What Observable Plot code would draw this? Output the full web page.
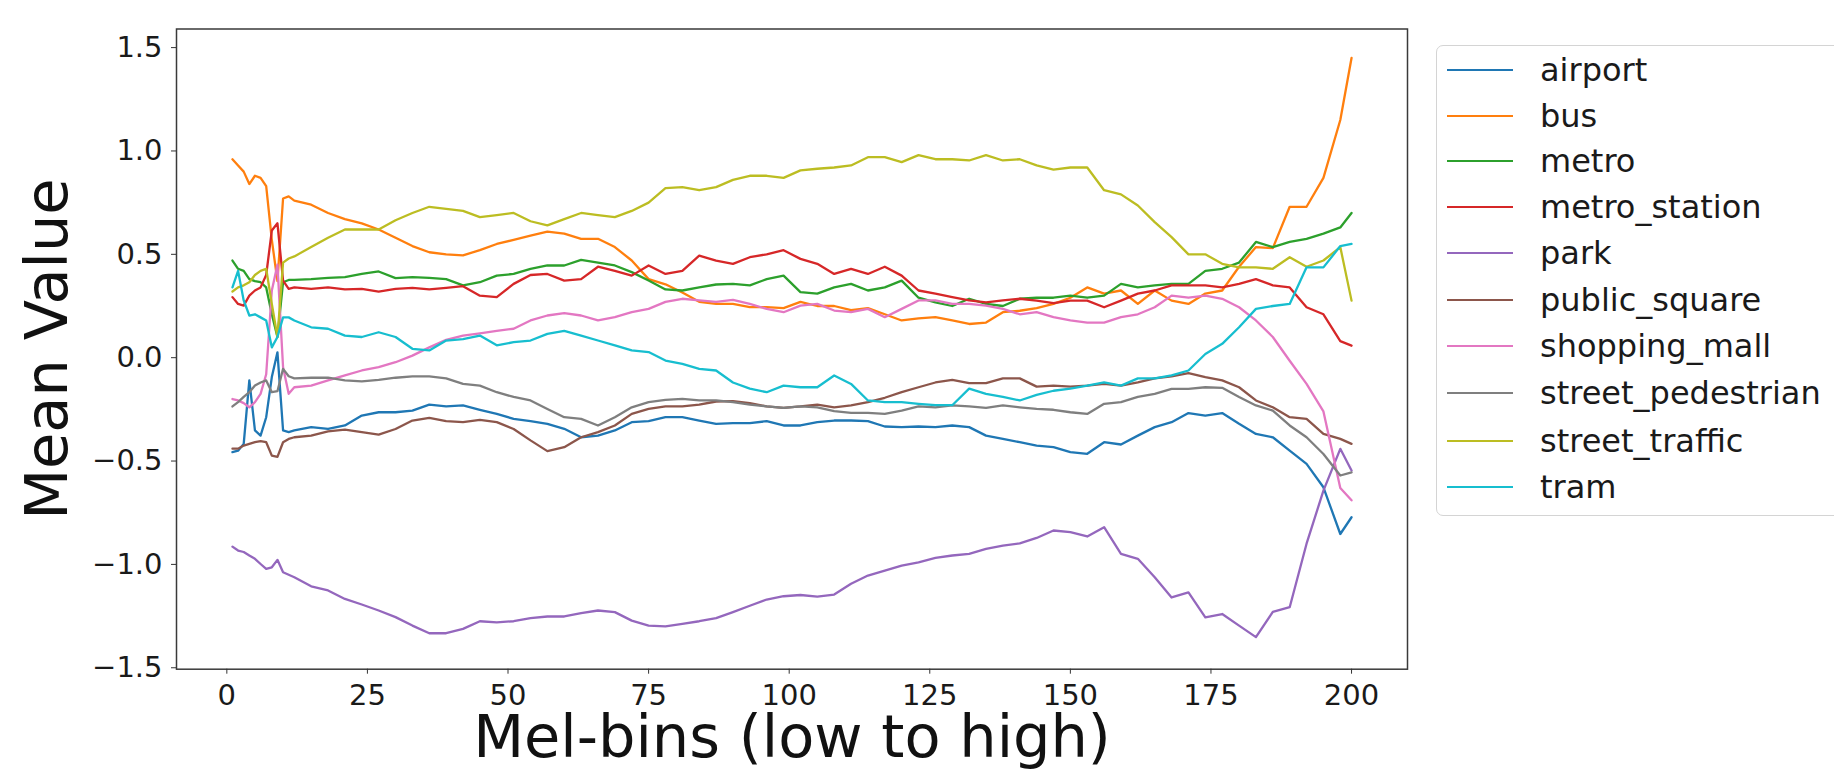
<!DOCTYPE html>
<html>
<head>
<meta charset="utf-8">
<script src="https://cdn.jsdelivr.net/npm/d3@7"></script>
<script src="https://cdn.jsdelivr.net/npm/@observablehq/plot@0.6"></script>
<style>
  html, body { margin: 0; padding: 0; background: #fff; }
  #wrap { position: relative; width: 1834px; height: 770px; overflow: hidden; font-family: "DejaVu Sans", sans-serif; }
  #legend { position: absolute; left: 1436px; top: 45px; width: 430px; height: 471px; border: 1.5px solid #d4d4d4; border-radius: 7px; background: #fff; box-sizing: border-box; }
  .item { position: absolute; left: 0; height: 40px; display: flex; align-items: center; }
  .swatch { width: 66px; height: 0; border-top: 2.6px solid; margin-left: 10px; }
  .lab { margin-left: 27px; font-size: 32px; color: #1a1a1a; white-space: nowrap; }
</style>
</head>
<body>
<div id="wrap"></div>
<script>
const bins = [1,2,3,4,5,6,7,8,9,10,11,12,
  15,18,21,24,27,30,33,36,39,42,45,48,51,54,57,60,63,
  66,69,72,75,78,81,84,87,90,93,96,99,102,105,108,111,114,117,120,123,126,129,132,135,138,
  141,144,147,150,153,156,159,162,165,168,171,174,177,180,183,186,189,192,195,198,200];

const airport = [-0.457,-0.45,-0.417,-0.11,-0.352,-0.377,-0.288,-0.094,0.026,-0.352,-0.36,-0.352,
  -0.336,-0.344,-0.328,-0.28,-0.264,-0.264,-0.256,-0.227,-0.236,-0.231,-0.252,-0.272,-0.296,-0.307,-0.32,-0.344,-0.385,
  -0.377,-0.352,-0.312,-0.307,-0.288,-0.288,-0.304,-0.32,-0.317,-0.317,-0.307,-0.328,-0.328,-0.312,-0.304,-0.304,-0.307,-0.333,-0.336,-0.333,-0.336,-0.328,-0.336,-0.377,-0.393,
  -0.409,-0.425,-0.433,-0.457,-0.465,-0.409,-0.42,-0.377,-0.336,-0.312,-0.268,-0.28,-0.268,-0.32,-0.369,-0.385,-0.45,-0.514,-0.627,-0.853,-0.772];

const bus = [0.96,0.93,0.90,0.84,0.88,0.87,0.83,0.57,0.37,0.77,0.78,0.76,
  0.74,0.70,0.67,0.65,0.62,0.58,0.54,0.51,0.50,0.495,0.52,0.55,0.57,0.59,0.61,0.60,0.575,
  0.575,0.535,0.47,0.38,0.355,0.315,0.27,0.26,0.26,0.245,0.245,0.24,0.27,0.25,0.25,0.23,0.24,0.21,0.18,0.19,0.196,0.18,0.163,0.17,0.22,
  0.227,0.24,0.26,0.29,0.34,0.31,0.325,0.26,0.325,0.276,0.26,0.31,0.325,0.44,0.535,0.53,0.73,0.73,0.87,1.15,1.45];

const metro = [0.47,0.43,0.42,0.38,0.37,0.365,0.34,0.21,0.10,0.365,0.376,0.376,
  0.38,0.386,0.39,0.405,0.417,0.385,0.39,0.386,0.38,0.35,0.365,0.397,0.405,0.43,0.446,0.446,0.473,
  0.46,0.446,0.414,0.373,0.33,0.325,0.34,0.354,0.357,0.35,0.38,0.397,0.317,0.31,0.34,0.357,0.325,0.34,0.373,0.29,0.268,0.25,0.285,0.26,0.25,
  0.285,0.29,0.29,0.30,0.29,0.30,0.357,0.34,0.35,0.357,0.357,0.42,0.43,0.46,0.56,0.535,0.56,0.575,0.60,0.63,0.70];

const metro_station = [0.293,0.26,0.252,0.30,0.325,0.34,0.40,0.615,0.65,0.373,0.333,0.34,
  0.333,0.34,0.33,0.333,0.32,0.333,0.338,0.33,0.338,0.346,0.30,0.293,0.357,0.40,0.405,0.373,0.38,
  0.44,0.42,0.397,0.446,0.405,0.42,0.494,0.47,0.454,0.486,0.50,0.52,0.478,0.454,0.405,0.43,0.405,0.44,0.397,0.325,0.31,0.293,0.277,0.268,0.277,
  0.285,0.276,0.264,0.276,0.276,0.244,0.276,0.31,0.325,0.35,0.35,0.35,0.34,0.357,0.38,0.35,0.34,0.244,0.21,0.08,0.058];

const park = [-0.914,-0.933,-0.94,-0.957,-0.973,-0.998,-1.022,-1.014,-0.978,-1.038,-1.05,-1.062,
  -1.106,-1.126,-1.167,-1.194,-1.223,-1.255,-1.296,-1.333,-1.333,-1.312,-1.275,-1.28,-1.275,-1.26,-1.252,-1.252,-1.236,
  -1.223,-1.231,-1.272,-1.296,-1.30,-1.288,-1.275,-1.26,-1.231,-1.20,-1.17,-1.154,-1.148,-1.156,-1.146,-1.094,-1.054,-1.03,-1.006,-0.99,-0.969,-0.957,-0.949,-0.925,-0.909,
  -0.898,-0.872,-0.836,-0.844,-0.865,-0.82,-0.949,-0.973,-1.062,-1.16,-1.135,-1.256,-1.24,-1.296,-1.352,-1.23,-1.207,-0.9,-0.643,-0.441,-0.546];

const public_square = [-0.44,-0.44,-0.425,-0.417,-0.409,-0.404,-0.409,-0.474,-0.48,-0.409,-0.393,-0.385,
  -0.377,-0.356,-0.348,-0.36,-0.372,-0.345,-0.304,-0.291,-0.307,-0.312,-0.301,-0.312,-0.345,-0.40,-0.452,-0.433,-0.385,
  -0.36,-0.328,-0.272,-0.248,-0.236,-0.236,-0.227,-0.212,-0.21,-0.22,-0.236,-0.243,-0.236,-0.227,-0.24,-0.231,-0.215,-0.194,-0.167,-0.143,-0.12,-0.107,-0.123,-0.123,-0.10,
  -0.10,-0.14,-0.135,-0.14,-0.135,-0.127,-0.135,-0.12,-0.10,-0.09,-0.075,-0.094,-0.11,-0.143,-0.207,-0.24,-0.288,-0.296,-0.369,-0.393,-0.417];

const shopping_mall = [-0.20,-0.207,-0.22,-0.24,-0.215,-0.175,-0.08,0.325,0.45,-0.046,-0.175,-0.143,
  -0.135,-0.11,-0.086,-0.062,-0.046,-0.022,0.01,0.05,0.086,0.107,0.118,0.13,0.14,0.18,0.204,0.215,0.204,
  0.18,0.196,0.22,0.236,0.27,0.285,0.277,0.27,0.28,0.26,0.236,0.22,0.252,0.26,0.228,0.22,0.236,0.196,0.236,0.277,0.277,0.26,0.26,0.252,0.236,
  0.21,0.22,0.196,0.18,0.17,0.17,0.196,0.21,0.244,0.30,0.29,0.30,0.285,0.244,0.18,0.10,-0.015,-0.127,-0.26,-0.63,-0.69];

const street_pedestrian = [-0.236,-0.215,-0.19,-0.167,-0.135,-0.12,-0.11,-0.167,-0.162,-0.054,-0.09,-0.10,
  -0.097,-0.097,-0.11,-0.115,-0.107,-0.097,-0.09,-0.09,-0.10,-0.127,-0.135,-0.167,-0.19,-0.207,-0.248,-0.288,-0.296,
  -0.328,-0.288,-0.24,-0.215,-0.204,-0.199,-0.207,-0.207,-0.215,-0.227,-0.236,-0.243,-0.236,-0.24,-0.259,-0.267,-0.267,-0.272,-0.256,-0.236,-0.24,-0.231,-0.236,-0.243,-0.231,
  -0.24,-0.248,-0.252,-0.264,-0.272,-0.223,-0.215,-0.19,-0.175,-0.151,-0.151,-0.143,-0.146,-0.19,-0.231,-0.256,-0.328,-0.385,-0.466,-0.57,-0.555];

const street_traffic = [0.32,0.34,0.35,0.365,0.40,0.42,0.43,0.26,0.10,0.46,0.48,0.49,
  0.535,0.58,0.62,0.62,0.62,0.665,0.70,0.73,0.72,0.71,0.68,0.69,0.70,0.66,0.64,0.67,0.70,
  0.69,0.68,0.71,0.75,0.82,0.825,0.81,0.825,0.86,0.88,0.88,0.87,0.906,0.914,0.92,0.93,0.97,0.97,0.946,0.98,0.96,0.96,0.954,0.98,0.954,
  0.96,0.93,0.91,0.92,0.92,0.81,0.79,0.736,0.656,0.583,0.50,0.50,0.454,0.437,0.437,0.43,0.486,0.44,0.47,0.535,0.276];

const tram = [0.34,0.42,0.277,0.204,0.21,0.195,0.18,0.05,0.10,0.195,0.195,0.18,
  0.147,0.14,0.107,0.10,0.123,0.10,0.043,0.035,0.083,0.09,0.107,0.06,0.075,0.083,0.115,0.13,0.107,
  0.083,0.06,0.035,0.027,-0.014,-0.03,-0.054,-0.062,-0.12,-0.15,-0.167,-0.135,-0.143,-0.143,-0.086,-0.127,-0.207,-0.215,-0.215,-0.223,-0.23,-0.23,-0.15,-0.175,-0.19,
  -0.207,-0.18,-0.16,-0.15,-0.135,-0.12,-0.135,-0.10,-0.10,-0.086,-0.062,0.018,0.067,0.147,0.236,0.25,0.26,0.437,0.437,0.54,0.55];

const seriesNames = ["airport","bus","metro","metro_station","park","public_square","shopping_mall","street_pedestrian","street_traffic","tram"];
const seriesValues = [airport, bus, metro, metro_station, park, public_square, shopping_mall, street_pedestrian, street_traffic, tram];
const colors = ["#1f77b4","#ff7f0e","#2ca02c","#d62728","#9467bd","#8c564b","#e377c2","#7f7f7f","#bcbd22","#17becf"];
const xTicks = [0,25,50,75,100,125,150,175,200];
const yTicks = [-1.5,-1.0,-0.5,0.0,0.5,1.0,1.5];
const xLabel = "Mel-bins (low to high)";
const yLabel = "Mean Value";

const rows = [];
seriesNames.forEach((name, i) => {
  seriesValues[i].forEach((v, j) => rows.push({series: name, bin: bins[j], value: v}));
});

const chart = Plot.plot({
  width: 1834,
  height: 770,
  marginLeft: 176,
  marginRight: 427,
  marginTop: 28.5,
  marginBottom: 101.3,
  style: {fontFamily: "DejaVu Sans, sans-serif", fontSize: "29px", color: "#1a1a1a", background: "#fff", overflow: "visible"},
  x: {domain: [-8.95, 209.95]},
  y: {domain: [-1.507, 1.59]},
  color: {domain: seriesNames, range: colors},
  marks: [
    Plot.line(rows, {x: "bin", y: "value", z: "series", stroke: "series", strokeWidth: 2.3}),
    Plot.frame({stroke: "#3a3a3a", strokeWidth: 1.5}),
    Plot.axisX({ticks: xTicks, tickSize: 5, tickPadding: 10.5, tickFormat: d => String(d), label: null, fontSize: 29, stroke: "#333"}),
    Plot.axisY({ticks: yTicks, tickSize: 5, tickPadding: 9, tickFormat: d => d.toFixed(1).replace("-", "\u2212"), label: null, fontSize: 29, stroke: "#333"}),
    Plot.text([xLabel], {text: d => d, frameAnchor: "bottom", textAnchor: "middle", dy: 88, lineAnchor: "bottom", fontSize: 59, fill: "#111"}),
    Plot.text([yLabel], {text: d => d, frameAnchor: "left", textAnchor: "middle", dx: -110, rotate: -90, lineAnchor: "bottom", fontSize: 59, fill: "#111"})
  ]
});

const wrap = document.getElementById("wrap");
wrap.appendChild(chart);

// legend
const legend = document.createElement("div");
legend.id = "legend";
const lineYs = [69, 114.5, 160, 206, 252, 298.5, 345, 392, 439.5, 486];
seriesNames.forEach((name, i) => {
  const it = document.createElement("div");
  it.className = "item";
  it.style.top = (lineYs[i] - 45 - 20) + "px";
  const sw = document.createElement("div");
  sw.className = "swatch";
  sw.style.borderTopColor = colors[i];
  const lb = document.createElement("span");
  lb.className = "lab";
  lb.textContent = name;
  it.appendChild(sw);
  it.appendChild(lb);
  legend.appendChild(it);
});
wrap.appendChild(legend);
</script>
</body>
</html>
